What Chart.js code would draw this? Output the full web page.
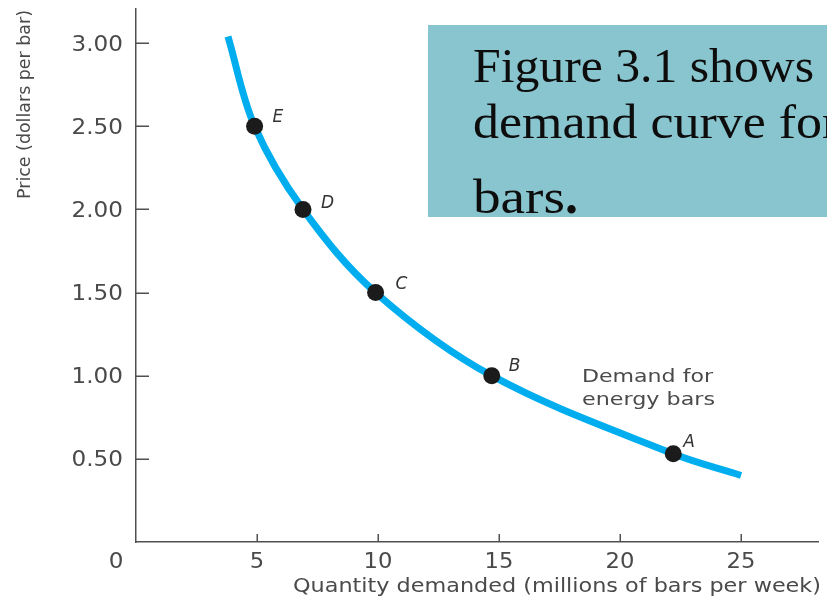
<!DOCTYPE html>
<html>
<head>
<meta charset="utf-8">
<script src="https://cdn.jsdelivr.net/npm/chart.js@4.4.1/dist/chart.umd.min.js"></script>
<style>
  html, body { margin: 0; padding: 0; background: #ffffff; overflow: hidden; }
  #wrap { width: 827px; height: 599px; }
  canvas { display: block; }
</style>
</head>
<body>
<div id="wrap"><canvas id="demand" width="827" height="599"></canvas></div>
<script>
// Demand curve for energy bars (quantity in millions of bars per week, price in dollars per bar)
const curveQuantity = [3.8, 4.9, 6.9, 9.9, 14.7, 22.2, 25.0];
const curvePrice    = [3.04, 2.5, 2.0, 1.5, 1.0, 0.53, 0.40];

// Labelled points on the curve
const pointNames    = ['E', 'D', 'C', 'B', 'A'];
const pointQuantity = [4.9, 6.9, 9.9, 14.7, 22.2];
const pointPrice    = [2.5, 2.0, 1.5, 1.0, 0.53];

// Axis ticks
const xTickValues = [5, 10, 15, 20, 25];
const xTickLabels = ['5', '10', '15', '20', '25'];
const yTickValues = [0.5, 1.0, 1.5, 2.0, 2.5, 3.0];
const yTickLabels = ['0.50', '1.00', '1.50', '2.00', '2.50', '3.00'];

const xTitle = 'Quantity demanded (millions of bars per week)';
const yTitle = 'Price (dollars per bar)';
const curveNote = ['Demand for', 'energy bars'];
const captionLines = ['Figure 3.1 shows', 'demand curve for', 'bars'];

const AXIS = '#505050';
const TEXT = '#4a4a4a';
const SANS = '"DejaVu Sans", sans-serif';

// draw text squeezed/stretched horizontally to a given width
function fitText(ctx, text, x, y, width, align) {
  const w = ctx.measureText(text).width;
  const s = width ? width / w : 1;
  ctx.save();
  ctx.translate(x, y);
  ctx.scale(s, 1);
  ctx.textAlign = align || 'left';
  ctx.fillText(text, 0, 0);
  ctx.restore();
}

const decor = {
  id: 'decor',
  afterDraw(chart) {
    const ctx = chart.ctx;
    const xs = chart.scales.x, ys = chart.scales.y;
    const left = chart.chartArea.left, bottom = chart.chartArea.bottom;

    ctx.save();
    // inward tick marks
    ctx.strokeStyle = AXIS;
    ctx.lineWidth = 1.5;
    ctx.beginPath();
    yTickValues.forEach(v => {
      const py = Math.round(ys.getPixelForValue(v)) + 0.25;
      ctx.moveTo(left, py); ctx.lineTo(left + 13, py);
    });
    xTickValues.forEach(v => {
      const px = Math.round(xs.getPixelForValue(v)) + 0.25;
      ctx.moveTo(px, bottom); ctx.lineTo(px, bottom - 8);
    });
    ctx.stroke();

    // tick labels
    ctx.fillStyle = TEXT;
    ctx.font = '21px ' + SANS;
    ctx.textBaseline = 'alphabetic';
    yTickValues.forEach((v, i) => {
      const py = ys.getPixelForValue(v);
      const w = ctx.measureText(yTickLabels[i]).width * 1.1;
      fitText(ctx, yTickLabels[i], left - 13, py + 7.5, w, 'right');
    });
    xTickValues.forEach((v, i) => {
      const px = xs.getPixelForValue(v);
      const w = ctx.measureText(xTickLabels[i]).width * 1.08;
      fitText(ctx, xTickLabels[i], px, bottom + 26, w, 'center');
    });
    // origin
    fitText(ctx, '0', left - 20, bottom + 26, ctx.measureText('0').width * 1.1, 'center');

    // axis titles
    ctx.font = '20px ' + SANS;
    fitText(ctx, xTitle, 821, 592, 528, 'right');
    ctx.save();
    ctx.font = '18px ' + SANS;
    ctx.translate(30, 199);
    ctx.rotate(-Math.PI / 2);
    fitText(ctx, yTitle, 0, 0, 189, 'left');
    ctx.restore();

    // point letters
    const offsets = [[18, -4], [18, -1], [20, -4], [17, -5], [10, -7]];
    ctx.fillStyle = '#333333';
    ctx.font = 'italic 17px ' + SANS;
    pointNames.forEach((n, i) => {
      const px = xs.getPixelForValue(pointQuantity[i]);
      const py = ys.getPixelForValue(pointPrice[i]);
      ctx.textAlign = 'left';
      ctx.fillText(n, px + offsets[i][0], py + offsets[i][1]);
    });

    // curve note
    ctx.fillStyle = TEXT;
    ctx.font = '18px ' + SANS;
    fitText(ctx, curveNote[0], 582, 382, 131, 'left');
    fitText(ctx, curveNote[1], 582, 405, 133, 'left');

    // caption panel
    ctx.fillStyle = '#89c5ce';
    ctx.fillRect(428, 25, 399, 192);
    ctx.fillStyle = '#0d0d0d';
    ctx.font = '49px "Liberation Serif", serif';
    fitText(ctx, captionLines[0], 473, 82, 341, 'left');
    const w2 = ctx.measureText(captionLines[1]).width * 1.06;
    fitText(ctx, captionLines[1], 473, 138, w2, 'left');
    fitText(ctx, captionLines[2], 473, 213, 92, 'left');
    ctx.font = 'bold 52px "Liberation Serif", serif';
    ctx.textAlign = 'left';
    ctx.fillText('.', 565, 213);
    ctx.restore();
  }
};

new Chart(document.getElementById('demand').getContext('2d'), {
  type: 'line',
  data: {
    datasets: [
      {
        label: 'Demand',
        data: curveQuantity.map((q, i) => ({ x: q, y: curvePrice[i] })),
        borderColor: '#00aeef',
        borderWidth: 7,
        borderCapStyle: 'butt',
        pointRadius: 0,
        tension: 0.35,
        fill: false,
        order: 2
      },
      {
        label: 'Points',
        data: pointQuantity.map((q, i) => ({ x: q, y: pointPrice[i] })),
        showLine: false,
        pointRadius: 8.5,
        pointBackgroundColor: '#1b1b1b',
        pointBorderWidth: 0,
        order: 1
      }
    ]
  },
  options: {
    responsive: false,
    animation: false,
    devicePixelRatio: 1,
    layout: { padding: { left: 0, top: 9, right: 8, bottom: 0 } },
    plugins: { legend: { display: false }, tooltip: { enabled: false } },
    scales: {
      x: {
        type: 'linear', min: 0, max: 28.2,
        grid: { display: false, drawTicks: false },
        border: { display: true, color: AXIS, width: 1.5 },
        ticks: { display: false },
        afterFit(s) { s.height = 57; }
      },
      y: {
        type: 'linear', min: 0, max: 3.205,
        grid: { display: false, drawTicks: false },
        border: { display: true, color: AXIS, width: 1.5 },
        ticks: { display: false },
        afterFit(s) { s.width = 136; }
      }
    }
  },
  plugins: [decor]
});
</script>
</body>
</html>
